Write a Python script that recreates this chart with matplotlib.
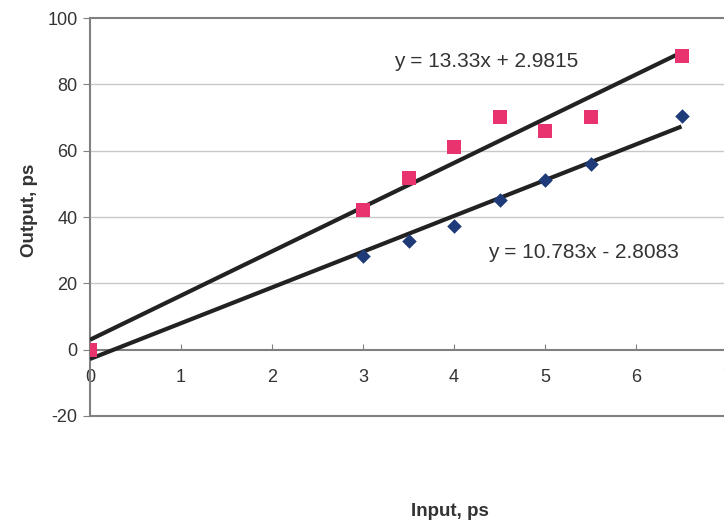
import matplotlib
matplotlib.use('Agg')
import matplotlib.pyplot as plt
import numpy as np

plt.rcParams['font.family'] = ['Liberation Sans', 'DejaVu Sans']
plt.rcParams['axes.unicode_minus'] = False

# data
x_vals = [0, 3, 3.5, 4, 4.5, 5, 5.5, 6.5]
pink_y = [0, 42.2, 51.9, 61.0, 70.3, 65.8, 70.3, 88.4]
blue_y = [0, 28.1, 32.9, 37.4, 45.0, 51.3, 56.1, 70.6]

# trendline coefficients shown on the chart
pink_fit = [13.33, 2.9815]
blue_fit = [10.783, -2.8083]
pink_label = 'y = 13.33x + 2.9815'
blue_label = 'y = 10.783x - 2.8083'

x_ticks = [0, 1, 2, 3, 4, 5, 6, 7]
y_ticks = [-20, 0, 20, 40, 60, 80, 100]

fig = plt.figure(figsize=(7.24, 5.27), dpi=100)
ax = fig.add_axes([90/724, 1 - 416/527, 637/724, 398/527])

ax.set_xlim(0, 7)
ax.set_ylim(-20, 100)

for yt in y_ticks[2:-1]:
    ax.axhline(yt, color='#c8c8c8', lw=1, zorder=0)
ax.axhline(-20, color='#808080', lw=1.5, zorder=1, clip_on=False)

xl = np.array([0, 6.5])
ax.plot(xl, pink_fit[0]*xl + pink_fit[1], color='#222222', lw=3, zorder=3, solid_capstyle='butt')
ax.plot(xl, blue_fit[0]*xl + blue_fit[1], color='#222222', lw=3, zorder=3, solid_capstyle='butt')

ax.scatter(x_vals, blue_y, marker='D', s=55, color='#1f3a78', zorder=4, linewidths=0)
ax.scatter(x_vals, pink_y, marker='s', s=90, color='#e8336e', zorder=5, linewidths=0)

ax.text(4.35, 86.9, pink_label, fontsize=15, color='#333333', ha='center', va='center')
ax.text(5.42, 29.3, blue_label, fontsize=15, color='#333333', ha='center', va='center')

ax.spines['bottom'].set_position(('data', 0))
for s in ax.spines.values():
    s.set_color('#808080')
    s.set_linewidth(1.5)

ax.set_xticks(x_ticks)
ax.set_yticks(y_ticks)
ax.tick_params(axis='x', direction='in', length=4, pad=14, labelsize=13, labelcolor='#333333', color='#808080')
ax.tick_params(axis='y', direction='out', length=5, pad=4, labelsize=13, labelcolor='#333333', color='#808080')

fig.text(30/724, 1 - 210/527, 'Output, ps', rotation=90, fontsize=13.5, fontweight='bold',
         color='#333333', ha='center', va='center')
fig.text(450/724, 1 - 512/527, 'Input, ps', fontsize=13.5, fontweight='bold',
         color='#333333', ha='center', va='center')

fig.savefig('out.png', dpi=100)
